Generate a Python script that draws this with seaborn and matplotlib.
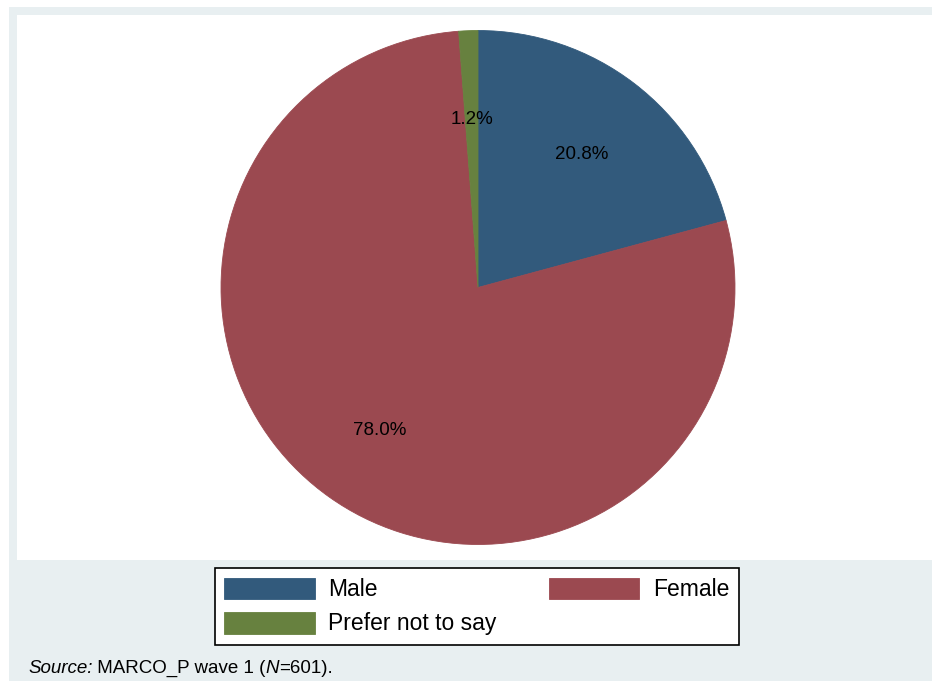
import matplotlib
matplotlib.use("Agg")
import matplotlib.pyplot as plt
import matplotlib.transforms as mtransforms
import seaborn as sns
from matplotlib.patches import Rectangle

sns.set_theme(style="white")
plt.rcParams["font.family"] = ["Liberation Sans", "DejaVu Sans"]
plt.rcParams["text.color"] = "black"

# Respondent gender shares (percent)
categories = ["Male", "Female", "Prefer not to say"]
shares = [20.8, 78.0, 1.2]
colors = ["#325A7C", "#9B4950", "#67813F"]

W, H = 932, 681
fig = plt.figure(figsize=(W / 100, H / 100), dpi=100)
fig.patch.set_facecolor("white")

# Graph region (light bluish-gray) and inner plot region (white)
fig.patches.append(Rectangle((9 / W, 0), (W - 9) / W, (H - 7) / H,
                             transform=fig.transFigure, facecolor="#E8EFF1",
                             edgecolor="none", zorder=0))
fig.patches.append(Rectangle((17 / W, (H - 560) / H), (W - 17) / W, (560 - 15) / H,
                             transform=fig.transFigure, facecolor="white",
                             edgecolor="none", zorder=0))

cx, cy, r = 478, 287.5, 257.5
ax = fig.add_axes([(cx - r) / W, (H - cy - r) / H, 2 * r / W, 2 * r / H])
ax.set_zorder(2)
ax.set_facecolor("none")
wedges, texts, autotexts = ax.pie(
    shares, colors=colors, startangle=90, counterclock=False, radius=1,
    autopct="%.1f%%", pctdistance=0.665,
    wedgeprops=dict(linewidth=0.6),
    textprops=dict(fontsize=13.5, color="black"),
)
for w, c in zip(wedges, colors):
    w.set_edgecolor(c)
# nudge the percentage labels so their glyphs sit visually centred
for t in autotexts:
    t.set_transform(mtransforms.offset_copy(ax.transData, fig=fig, y=-3, units="dots"))
ax.set_xlim(-1.002, 1.002)
ax.set_ylim(-1.002, 1.002)
ax.set_aspect("equal")
ax.axis("off")

# Legend: Male / Female in the first row, Prefer not to say below
order = [0, 2, 1]
leg = fig.legend([wedges[i] for i in order], [categories[i] for i in order],
                 loc="center", bbox_to_anchor=(477 / W, 1 - 606.5 / H), ncol=2,
                 fontsize=16.5, frameon=True, fancybox=False, edgecolor="black",
                 framealpha=1, handlelength=3.93, handleheight=1.09,
                 handletextpad=0.6, columnspacing=2.3, labelspacing=0.45,
                 borderpad=0.4, borderaxespad=0)
leg.get_frame().set_linewidth(1.2)
leg.set_zorder(5)
for t in leg.get_texts():
    t.set_color("black")

# Source note with mixed italic and upright pieces
pieces = [("Source:", "italic"), (" MARCO_P wave 1 (", "normal"),
          ("N", "italic"), ("=601).", "normal")]
fig.canvas.draw()
renderer = fig.canvas.get_renderer()
x = 28 / W
for txt, style in pieces:
    t = fig.text(x, 1 - 673 / H, txt, fontsize=13.5, style=style,
                 va="baseline", ha="left", color="black")
    bb = t.get_window_extent(renderer=renderer)
    x += bb.width / W

fig.savefig("out.png", dpi=100)
